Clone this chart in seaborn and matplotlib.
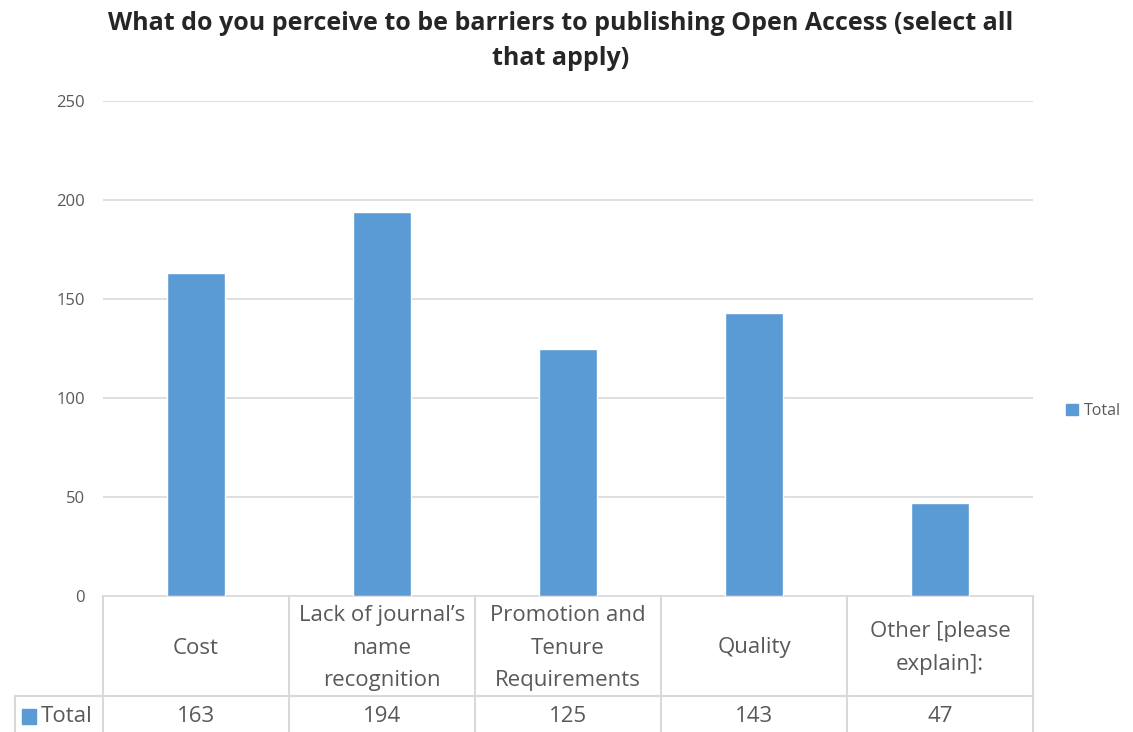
import numpy as np
import pandas as pd
import matplotlib
matplotlib.use("Agg")
import matplotlib.pyplot as plt
import seaborn as sns
from matplotlib.patches import Rectangle

# data
categories = ["Cost", "Lack of journal\u2019s\nname\nrecognition", "Promotion and\nTenure\nRequirements",
              "Quality", "Other [please\nexplain]:"]
totals = [163, 194, 125, 143, 47]
series_name = "Total"
title = "What do you perceive to be barriers to publishing Open Access (select all\nthat apply)"

bar_color = "#5B9BD5"
grid_color = "#D9D9D9"
text_color = "#595959"

sns.set_theme(style="white")
plt.rcParams['font.family'] = ['Open Sans', 'DejaVu Sans']

df = pd.DataFrame({"cat": categories, "val": totals})

W, H = 1133, 732
AH = 596 - 101
fig = plt.figure(figsize=(W / 100, H / 100), dpi=100)
ax = fig.add_axes([103 / W, (H - 596) / H, (1033 - 103) / W, AH / H])

sns.barplot(data=df, x="cat", y="val", color=bar_color, width=0.31, saturation=1, ax=ax, zorder=3)

ax.set_ylim(0, 250)
ax.set_xlim(-0.5, len(categories) - 0.5)
ax.set_yticks(np.arange(0, 251, 50))
ax.yaxis.grid(True, color=grid_color, lw=1.2, zorder=0)
ax.tick_params(axis="y", length=0, pad=13, labelsize=12, labelcolor=text_color)
ax.set_xticks([])
ax.set_xlabel("")
ax.set_ylabel("")
for s in ["top", "right", "left"]:
    ax.spines[s].set_visible(False)
ax.spines["bottom"].set_color(grid_color)
ax.spines["bottom"].set_linewidth(1.2)

# data table below the axis (x in data units, y in axes fraction)
tr = ax.get_xaxis_transform()
yt = -100 / AH   # bottom of category row
yb = -140 / AH   # below figure edge
xl = -0.5 - 88 / 186
kw = dict(color=grid_color, lw=1.5, clip_on=False, zorder=1, transform=tr)
for i in range(len(categories) + 1):
    ax.plot([i - 0.5, i - 0.5], [0, yb], **kw)
ax.plot([xl, len(categories) - 0.5], [yt, yt], **kw)
ax.plot([xl, xl], [yt, yb], **kw)

for i, (c, v) in enumerate(zip(categories, totals)):
    ax.text(i, -52 / AH, c, ha="center", va="center", fontsize=16, color=text_color,
            linespacing=1.7, clip_on=False, transform=tr)
    ax.text(i, -121 / AH, str(v), ha="center", va="center", fontsize=16, color=text_color,
            clip_on=False, transform=tr)

ax.add_patch(Rectangle((-0.5 - 81 / 186, -128 / AH), 14 / 186, 15 / AH, color=bar_color,
                       clip_on=False, transform=tr))
ax.text(-0.5 - 62 / 186, -121 / AH, series_name, ha="left", va="center", fontsize=16,
        color=text_color, clip_on=False, transform=tr)

# legend
fig.legend(handles=[Rectangle((0, 0), 1, 1, color=bar_color)], labels=[series_name],
           loc="center left", bbox_to_anchor=(1052 / W, 1 - 411 / H), frameon=False,
           handlelength=0.7, handleheight=0.7, handletextpad=0.4,
           prop={"size": 11.5}, labelcolor=text_color)

fig.text(561 / W, 1 - 41 / H, title, ha="center", va="center", fontsize=18, fontweight="bold",
         color="#262626", linespacing=1.55)

fig.savefig("out.png", dpi=100)
